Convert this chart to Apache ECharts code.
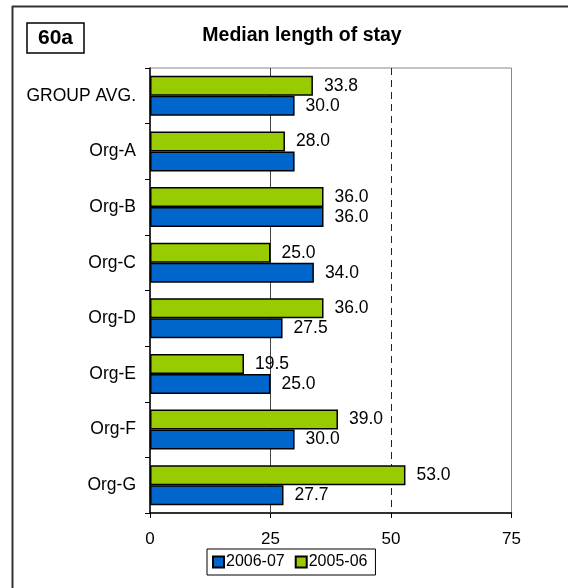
<!DOCTYPE html>
<html>
<head>
<meta charset="utf-8">
<script src="https://cdn.jsdelivr.net/npm/echarts@6/dist/echarts.min.js"></script>
<style>
html,body{margin:0;padding:0;background:#fff;}
#chart{width:570px;height:588px;}
</style>
</head>
<body>
<div id="chart"></div>
<script>
var categories = ['GROUP AVG.', 'Org-A', 'Org-B', 'Org-C', 'Org-D', 'Org-E', 'Org-F', 'Org-G'];
var values0506 = [33.8, 28.0, 36.0, 25.0, 36.0, 19.5, 39.0, 53.0];
var values0607 = [30.0, 30.0, 36.0, 34.0, 27.5, 25.0, 30.0, 27.7];
var hiddenLabels0607 = ['Org-A'];
var xTicks = [0, 25, 50, 75];
var solidRefLines = [25];
var dashedRefLines = [50];

var chart = echarts.init(document.getElementById('chart'));
var FONT = 'Liberation Sans, Arial, sans-serif';

function labelData(vals, hidden) {
  return vals.map(function (v, i) {
    var item = { value: v };
    if (hidden && hidden.indexOf(categories[i]) >= 0) item.label = { show: false };
    return item;
  });
}

var labelCfg = {
  show: true, position: 'right', distance: 11,
  color: '#000', fontFamily: FONT, fontSize: 17.5,
  formatter: function (p) { return p.value.toFixed(1); }
};

chart.setOption({
  animation: false,
  backgroundColor: '#fff',
  textStyle: { fontFamily: FONT },
  graphic: [
    { type: 'line', shape: { x1: 12, y1: 6.5, x2: 568, y2: 6.5 }, style: { stroke: '#333', lineWidth: 2 } },
    { type: 'line', shape: { x1: 12.5, y1: 6, x2: 12.5, y2: 588 }, style: { stroke: '#333', lineWidth: 2 } },
    { type: 'rect', shape: { x: 27, y: 23, width: 57, height: 30 }, style: { fill: '#fff', stroke: '#000', lineWidth: 1.5 } },
    { type: 'text', x: 55.5, y: 38.5, style: { text: '60a', font: 'bold 21px ' + FONT, fill: '#000', textAlign: 'center', textVerticalAlign: 'middle' } }
  ],
  title: {
    text: 'Median length of stay', left: 297, top: 21, textAlign: 'center',
    textStyle: { fontFamily: FONT, fontSize: 19.5, fontWeight: 'bold', color: '#000' }
  },
  legend: {
    data: ['2006-07', '2005-06'],
    left: 207, top: 549,
    itemWidth: 11, itemHeight: 11, itemGap: 10,
    padding: [5, 8, 5, 5],
    borderColor: '#000', borderWidth: 1,
    textStyle: { fontFamily: FONT, fontSize: 16, color: '#000', padding: [0, 0, 0, -3] },
    icon: 'rect'
  },
  grid: {
    left: 150, right: 58.5, top: 68, bottom: 75,
    show: true, borderColor: '#888', borderWidth: 1, backgroundColor: 'transparent'
  },
  xAxis: {
    type: 'value', min: xTicks[0], max: xTicks[xTicks.length - 1], interval: 25,
    axisLine: { show: true, lineStyle: { color: '#000', width: 1.5 } },
    axisTick: { show: true, length: 5, lineStyle: { color: '#000' } },
    axisLabel: { fontFamily: FONT, fontSize: 17, color: '#000', margin: 18 },
    splitLine: { show: false }
  },
  yAxis: {
    type: 'category', data: categories, inverse: true,
    axisLine: { show: true, lineStyle: { color: '#000', width: 1.5 } },
    axisTick: { show: true, length: 5, lineStyle: { color: '#000' } },
    axisLabel: { fontFamily: FONT, fontSize: 17.5, color: '#000', margin: 14 }
  },
  series: [
    {
      name: '2005-06', type: 'bar', data: labelData(values0506),
      barCategoryGap: '28%', barGap: '0%',
      itemStyle: { color: '#99CC00', borderColor: '#000', borderWidth: 1.5 },
      label: labelCfg,
      z: 3
    },
    {
      name: '2006-07', type: 'bar', data: labelData(values0607, hiddenLabels0607),
      barCategoryGap: '28%', barGap: '0%',
      itemStyle: { color: '#0066CC', borderColor: '#000', borderWidth: 1.5 },
      label: labelCfg,
      z: 3
    },
    {
      name: 'refLines', type: 'line', data: [], z: 1, silent: true,
      markLine: {
        silent: true, symbol: 'none', label: { show: false }, z: 1,
        data: solidRefLines.map(function (v) { return { xAxis: v, lineStyle: { color: '#444', type: 'solid', width: 1 } }; })
          .concat(dashedRefLines.map(function (v) { return { xAxis: v, lineStyle: { color: '#222', type: [7, 5], width: 1 } }; }))
      }
    }
  ]
});
</script>
</body>
</html>
